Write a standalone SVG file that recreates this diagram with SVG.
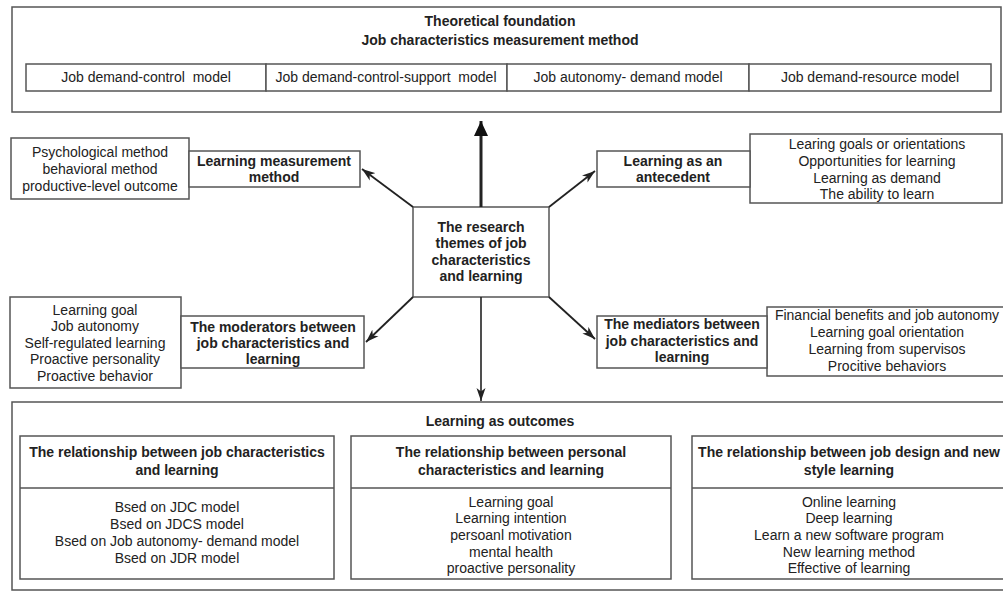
<svg xmlns="http://www.w3.org/2000/svg" width="1003" height="592" viewBox="0 0 1003 592">
<style>
.box{fill:#fff;stroke:#555;stroke-width:1.5}
.t{font-family:"Liberation Sans",Arial,sans-serif;font-size:14px;fill:#222;text-anchor:middle}
.b{font-weight:bold}
.pre{white-space:pre}
.ln{stroke:#222;fill:none}
</style>
<defs>
<marker id="bigHead" markerUnits="userSpaceOnUse" markerWidth="16" markerHeight="16" viewBox="0 0 16 16" refX="15" refY="8" orient="auto">
<path d="M0,1 L15,8 L0,15 z" fill="#111"/>
</marker>
<marker id="head" markerUnits="userSpaceOnUse" markerWidth="14" markerHeight="10" viewBox="0 0 14 10" refX="13" refY="5" orient="auto">
<path d="M0,0.5 L13,5 L0,9.5 L3.5,5 z" fill="#222"/>
</marker>
</defs>
<rect width="1003" height="592" fill="#fff"/>

<g id="theory">
<rect class="box" x="12" y="7" width="989" height="105"/>
<text class="t b" x="500" y="26">Theoretical foundation</text>
<text class="t b" x="500" y="45">Job characteristics measurement method</text>
<rect class="box" x="26" y="64" width="240" height="27"/>
<rect class="box" x="266" y="64" width="241" height="27"/>
<rect class="box" x="507" y="64" width="242" height="27"/>
<rect class="box" x="749" y="64" width="242" height="27"/>
<text class="t pre" x="146" y="82" xml:space="preserve">Job demand-control  model</text>
<text class="t pre" x="386" y="82" xml:space="preserve">Job demand-control-support  model</text>
<text class="t" x="628" y="82">Job autonomy- demand model</text>
<text class="t" x="870" y="82">Job demand-resource model</text>
</g>

<g id="center">
<rect class="box" x="413" y="207" width="136" height="90"/>
<text class="t b" x="481" y="232">The research</text>
<text class="t b" x="481" y="248">themes of job</text>
<text class="t b" x="481" y="265">characteristics</text>
<text class="t b" x="481" y="281">and learning</text>
</g>

<g id="measurement">
<rect class="box" x="11" y="138" width="178" height="61"/>
<text class="t" x="100" y="157">Psychological method</text>
<text class="t" x="100" y="174">behavioral method</text>
<text class="t" x="100" y="191">productive-level outcome</text>
<rect class="box" x="189" y="151" width="171" height="36"/>
<text class="t b" x="274" y="166">Learning measurement</text>
<text class="t b" x="274" y="182">method</text>
</g>

<g id="moderators">
<rect class="box" x="10" y="297" width="171" height="91"/>
<text class="t" x="95" y="315">Learning goal</text>
<text class="t" x="95" y="331">Job autonomy</text>
<text class="t" x="95" y="348">Self-regulated learning</text>
<text class="t" x="95" y="364">Proactive personality</text>
<text class="t" x="95" y="381">Proactive behavior</text>
<rect class="box" x="181" y="316" width="183" height="52"/>
<text class="t b" x="273" y="332">The moderators between</text>
<text class="t b" x="273" y="348">job characteristics and</text>
<text class="t b" x="273" y="364">learning</text>
</g>

<g id="antecedent">
<rect class="box" x="750" y="134" width="252" height="69"/>
<text class="t" x="877" y="149">Learing goals or orientations</text>
<text class="t" x="877" y="166">Opportunities for learning</text>
<text class="t" x="877" y="183">Learning as demand</text>
<text class="t" x="877" y="199">The ability to learn</text>
<rect class="box" x="597" y="151" width="153" height="36"/>
<text class="t b" x="673" y="166">Learning as an</text>
<text class="t b" x="673" y="182">antecedent</text>
</g>

<g id="mediators">
<rect class="box" x="767" y="307" width="240" height="69"/>
<text class="t" x="887" y="320">Financial benefits and job autonomy</text>
<text class="t" x="887" y="337">Learning goal orientation</text>
<text class="t" x="887" y="354">Learning from supervisos</text>
<text class="t" x="887" y="371">Procitive behaviors</text>
<rect class="box" x="597" y="316" width="170" height="52"/>
<text class="t b" x="682" y="329">The mediators between</text>
<text class="t b" x="682" y="346">job characteristics and</text>
<text class="t b" x="682" y="362">learning</text>
</g>

<g id="outcomes">
<rect class="box" x="12" y="402" width="995" height="188"/>
<text class="t b" x="500" y="426">Learning as outcomes</text>
</g>

<g id="outcome-job">
<rect class="box" x="20" y="436" width="314" height="143"/>
<line class="box" x1="20" y1="488" x2="334" y2="488"/>
<text class="t b" x="177" y="457">The relationship between job characteristics</text>
<text class="t b" x="177" y="475">and learning</text>
<text class="t" x="177" y="512">Bsed on JDC model</text>
<text class="t" x="177" y="529">Bsed on JDCS model</text>
<text class="t" x="177" y="546">Bsed on Job autonomy- demand model</text>
<text class="t" x="177" y="563">Bsed on JDR model</text>
</g>

<g id="outcome-personal">
<rect class="box" x="351" y="436" width="320" height="143"/>
<line class="box" x1="351" y1="488" x2="671" y2="488"/>
<text class="t b" x="511" y="457">The relationship between personal</text>
<text class="t b" x="511" y="475">characteristics and learning</text>
<text class="t" x="511" y="507">Learning goal</text>
<text class="t" x="511" y="523">Learning intention</text>
<text class="t" x="511" y="540">persoanl motivation</text>
<text class="t" x="511" y="557">mental health</text>
<text class="t" x="511" y="573">proactive personality</text>
</g>

<g id="outcome-design">
<rect class="box" x="692" y="436" width="315" height="143"/>
<line class="box" x1="692" y1="488" x2="1007" y2="488"/>
<text class="t b" x="849" y="457">The relationship between job design and new</text>
<text class="t b" x="849" y="475">style learning</text>
<text class="t" x="849" y="507">Online learning</text>
<text class="t" x="849" y="523">Deep learning</text>
<text class="t" x="849" y="540">Learn a new software program</text>
<text class="t" x="849" y="557">New learning method</text>
<text class="t" x="849" y="573">Effective of learning</text>
</g>

<g id="connectors">
<line class="ln" x1="481" y1="207" x2="481" y2="121" stroke-width="3" marker-end="url(#bigHead)"/>
<line class="ln" x1="481" y1="297" x2="481" y2="401" stroke-width="1.6" marker-end="url(#head)"/>
<line class="ln" x1="413" y1="207" x2="362" y2="169" stroke-width="1.8" marker-end="url(#head)"/>
<line class="ln" x1="413" y1="297" x2="366" y2="342" stroke-width="1.8" marker-end="url(#head)"/>
<line class="ln" x1="549" y1="207" x2="595" y2="171" stroke-width="1.8" marker-end="url(#head)"/>
<line class="ln" x1="549" y1="297" x2="595" y2="339" stroke-width="1.8" marker-end="url(#head)"/>
</g>
</svg>
